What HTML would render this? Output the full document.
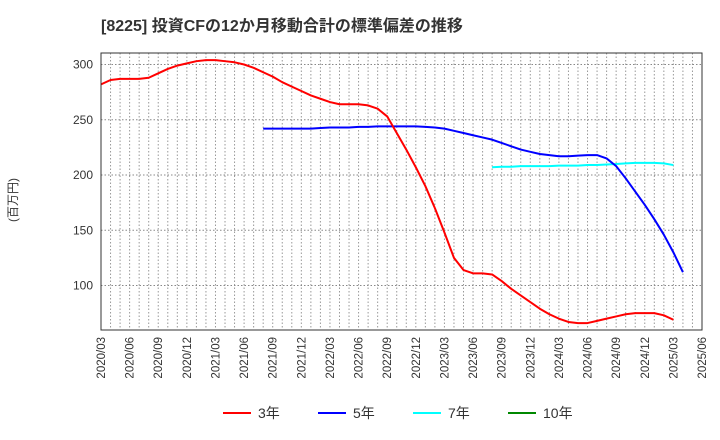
<!DOCTYPE html>
<html><head><meta charset="utf-8"><style>
body{margin:0;background:#fff;}
svg{display:block;font-family:"Liberation Sans","Noto Sans CJK JP",sans-serif;}
</style></head><body>
<svg id="chart" width="720" height="440">
<text x="101" y="31" font-size="16" font-weight="bold" fill="#333">[8225]  投資CFの12か月移動合計の標準偏差の推移</text>
<text transform="translate(17,200) rotate(-90)" text-anchor="middle" font-size="12" fill="#333">(百万円)</text>
<g id="grid"></g><g id="series"></g><g id="axes"></g>
<g>
<g><line x1="223" y1="413" x2="251" y2="413" stroke="#f00" stroke-width="2"/><text x="258" y="418" font-size="14" fill="#333">3年</text></g>
<g><line x1="318" y1="413" x2="346" y2="413" stroke="#00f" stroke-width="2"/><text x="353" y="418" font-size="14" fill="#333">5年</text></g>
<g><line x1="413" y1="413" x2="441" y2="413" stroke="#0ff" stroke-width="2"/><text x="448" y="418" font-size="14" fill="#333">7年</text></g>
<g><line x1="508" y1="413" x2="536" y2="413" stroke="#080" stroke-width="2"/><text x="543" y="418" font-size="14" fill="#333">10年</text></g>
</g>
</svg>
<script>
const xTickLabels=["2020/03","2020/06","2020/09","2020/12","2021/03","2021/06","2021/09","2021/12","2022/03","2022/06","2022/09","2022/12","2023/03","2023/06","2023/09","2023/12","2024/03","2024/06","2024/09","2024/12","2025/03","2025/06"];
const yTicks=[100,150,200,250,300];
const s3Start=0;
const s3=[282,286,287,287,287,288,292,296,299,301,303,304,304,303,302,300,297,293,289,284,280,276,272,269,266,264,264,264,263,260,253,238,223,207,190,170,148,125,114,111,111,110,104,97,91,85,79,74,70,67,66,66,68,70,72,74,75,75,75,73,69];
const s5Start=17;
const s5=[242,242,242,242,242,242,242.5,243,243,243,243.5,243.5,244,244,244,244,244,243.5,243,242,240,238,236,234,232,229,226,223,221,219,218,217,217,217.5,218,218,215,208,197,185,173,160,146,130,112];
const s7Start=41;
const s7=[207,207.5,207.5,208,208,208,208,208.5,208.5,208.5,209,209,209.5,210,210.5,211,211,211,210.5,209];
const X0=101,X1=702,Y0=53,Y1=330,NM=63;
const xs=m=>X0+m*(X1-X0)/NM;
const ys=v=>175-(v-200)*1.105;
const NS="http://www.w3.org/2000/svg";
function mk(t,a,p){const e=document.createElementNS(NS,t);for(const k in a)e.setAttribute(k,a[k]);p.appendChild(e);return e;}
const grid=document.getElementById('grid'),axes=document.getElementById('axes'),ser=document.getElementById('series');
for(let m=1;m<NM;m++){const l=mk('line',{x1:xs(m),x2:xs(m),y1:Y0,y2:Y1,stroke:'#999','stroke-dasharray':'1.5,2','stroke-width':1},grid);

}
yTicks.forEach(v=>{const l=mk('line',{x1:X0,x2:X1,y1:ys(v),y2:ys(v),stroke:'#888','stroke-dasharray':'1.5,2','stroke-width':1},grid);


const t=mk('text',{x:X0-8,y:ys(v)+4,'text-anchor':'end','font-size':12,fill:'#333'},axes);t.textContent=v;

});
xTickLabels.forEach((s,i)=>{const x=xs(i*3);const t=mk('text',{transform:`translate(${x+4},337) rotate(-90)`,'text-anchor':'end','font-size':11.5,fill:'#333'},axes);t.textContent=s;

});
const fr=mk('rect',{x:X0,y:Y0,width:X1-X0,height:Y1-Y0,fill:'none',stroke:'#333','stroke-width':1},axes);


function line(arr,st,col,name){const p=mk('polyline',{points:arr.map((v,i)=>xs(st+i)+','+ys(v)).join(' '),fill:'none',stroke:col,'stroke-width':2,'stroke-linejoin':'round'},ser);

}
line(s7,s7Start,'#0ff','series-7y');
line(s5,s5Start,'#00f','series-5y');
line(s3,s3Start,'#f00','series-3y');
</script>
</body></html>
